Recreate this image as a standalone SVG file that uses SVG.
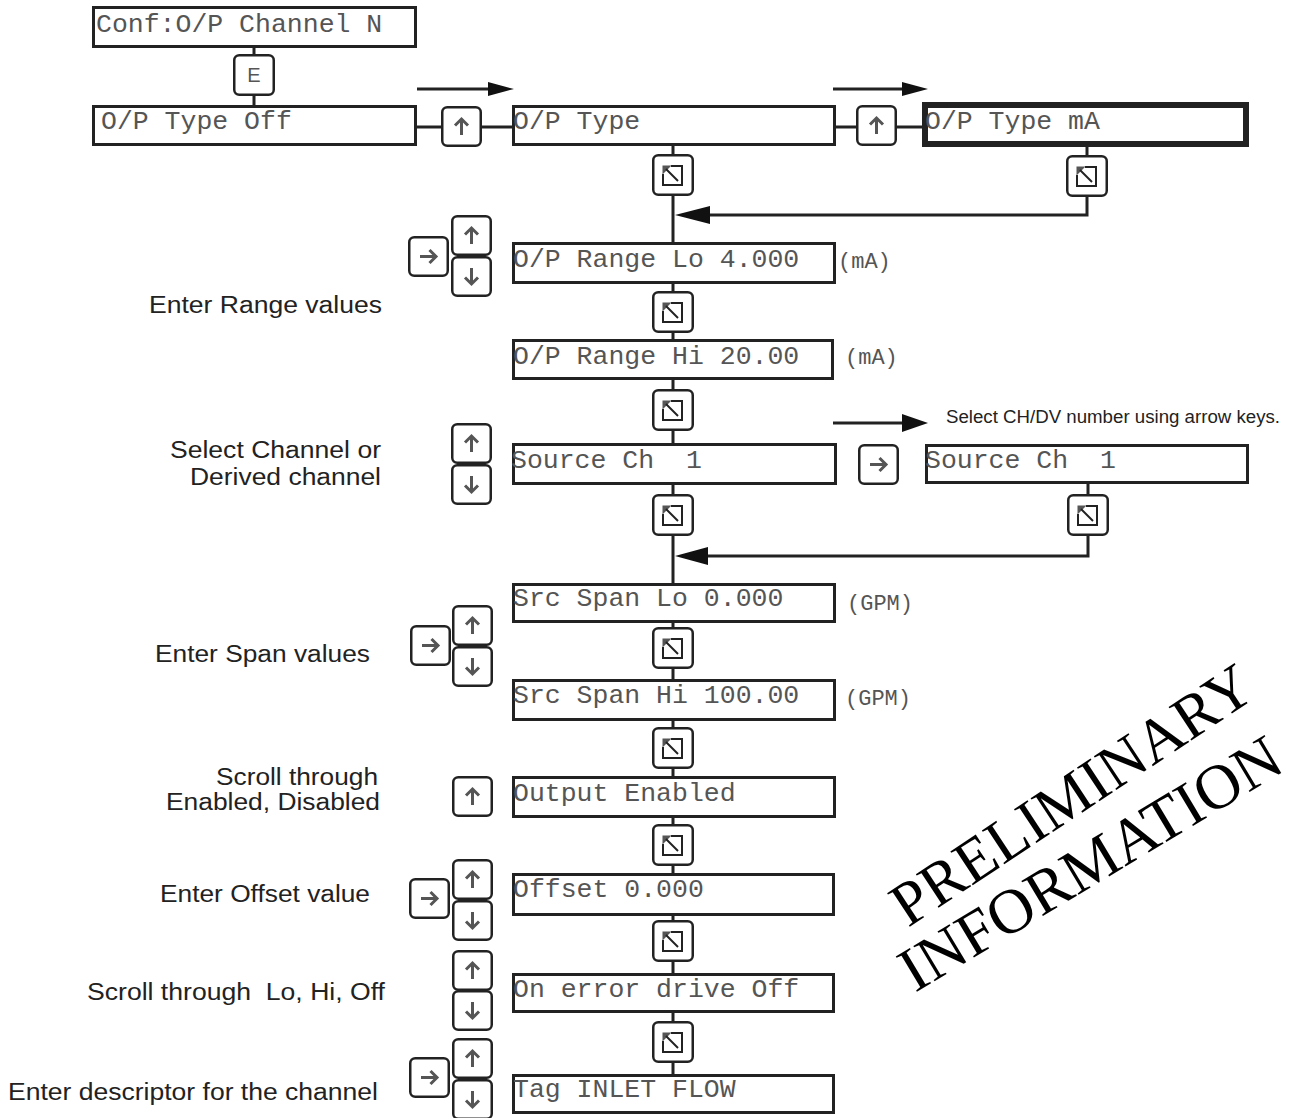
<svg xmlns="http://www.w3.org/2000/svg" xmlns:xlink="http://www.w3.org/1999/xlink" width="1292" height="1118" viewBox="0 0 1292 1118">
  <style>
    .box { fill: #fff; stroke: #222; stroke-width: 3; }
    .box-sel { fill: #fff; stroke: #222; stroke-width: 6; }
    .lcd { font-family: "Liberation Mono", "DejaVu Sans Mono", monospace; font-size: 26.5px; fill: #555; }
    .unit { font-family: "Liberation Mono", "DejaVu Sans Mono", monospace; font-size: 22px; fill: #555; }
    .note { font-family: "Liberation Sans", Arial, sans-serif; font-size: 23.5px; fill: #222; }
    .small { font-family: "Liberation Sans", Arial, sans-serif; font-size: 17.5px; fill: #222; }
    .wm { font-family: "Liberation Serif", "Times New Roman", serif; fill: #000; }
    .wire { fill: none; stroke: #222; stroke-width: 3; }
    .keycap { fill: #fff; stroke: #222; stroke-width: 2.5; }
    .glyph { fill: none; stroke: #555; stroke-width: 3; stroke-linecap: butt; stroke-linejoin: miter; }
  </style>
  <defs>
    <!-- key caps, 41 x 41 -->
    <g id="kUp">
      <rect class="keycap" x="1.25" y="1.25" width="38.5" height="38.5" rx="5"/>
      <path class="glyph" d="M20.5 29 V13 M14 19.5 L20.5 13 L27 19.5"/>
    </g>
    <g id="kDown">
      <rect class="keycap" x="1.25" y="1.25" width="38.5" height="38.5" rx="5"/>
      <path class="glyph" d="M20.5 12 V28 M14 21.5 L20.5 28 L27 21.5"/>
    </g>
    <g id="kRight">
      <rect class="keycap" x="1.25" y="1.25" width="38.5" height="38.5" rx="5"/>
      <path class="glyph" d="M12 20.5 H28 M21.5 14 L28 20.5 L21.5 27"/>
    </g>
    <g id="kEnter">
      <rect class="keycap" x="1.25" y="1.25" width="39.5" height="39.5" rx="5"/>
      <path d="M19 12 H30 V31 H11 V20" fill="none" stroke="#222" stroke-width="2"/>
      <polygon points="10.5,11.5 19.5,11.5 10.5,20.5" fill="#555"/>
      <line x1="14" y1="15" x2="26" y2="27" stroke="#222" stroke-width="2"/>
    </g>
  </defs>

  <!-- connectors -->
  <g id="connectors">
    <line class="wire" x1="254" y1="48" x2="254" y2="105"/>
    <line class="wire" x1="417" y1="127" x2="513" y2="127"/>
    <line class="wire" x1="836" y1="127" x2="923" y2="127"/>
    <line class="wire" x1="673" y1="146" x2="673" y2="1075"/>
    <polyline class="wire" points="1087,147 1087,215 705,215"/>
    <polygon points="675,215 710,206 710,224" fill="#111"/>
    <polyline class="wire" points="1088,484 1088,556 700,556"/>
    <polygon points="675,556 708,547 708,565" fill="#111"/>
    <!-- direction arrows -->
    <line class="wire" x1="417" y1="89" x2="492" y2="89"/>
    <polygon points="488,82 514,89 488,96" fill="#111"/>
    <line class="wire" x1="833" y1="89" x2="906" y2="89"/>
    <polygon points="902,82 928,89 902,96" fill="#111"/>
    <line class="wire" x1="833" y1="423" x2="906" y2="423"/>
    <polygon points="902,414 928,423 902,432" fill="#111"/>
  </g>

  <!-- display screens -->
  <g id="conf-channel">
    <rect class="box" x="93.5" y="7.5" width="322" height="39"/>
    <text class="lcd" x="96" y="32">Conf:O/P Channel N</text>
  </g>
  <g id="key-e">
    <rect class="keycap" x="234.25" y="55.25" width="39.5" height="39.5" rx="5"/>
    <text x="254" y="82" text-anchor="middle" font-family="Liberation Sans, Arial, sans-serif" font-size="20" fill="#555">E</text>
  </g>
  <g id="type-off">
    <rect class="box" x="93.5" y="106.5" width="322" height="38"/>
    <text class="lcd" x="101" y="129">O/P Type Off</text>
  </g>
  <g id="type">
    <rect class="box" x="513.5" y="106.5" width="321" height="38"/>
    <text class="lcd" x="513" y="129">O/P Type</text>
  </g>
  <g id="type-ma">
    <rect class="box-sel" x="925" y="105" width="321" height="39"/>
    <text class="lcd" x="925" y="129">O/P Type mA</text>
  </g>
  <g id="range-lo">
    <rect class="box" x="513.5" y="243.5" width="321" height="39"/>
    <text class="lcd" x="513" y="267">O/P Range Lo 4.000</text>
    <text class="unit" x="838" y="268">(mA)</text>
  </g>
  <g id="range-hi">
    <rect class="box" x="513.5" y="340.5" width="319" height="38"/>
    <text class="lcd" x="513" y="364">O/P Range Hi 20.00</text>
    <text class="unit" x="845" y="364">(mA)</text>
  </g>
  <g id="source-ch">
    <rect class="box" x="513.5" y="444.5" width="322" height="39"/>
    <text class="lcd" x="511" y="468" xml:space="preserve">Source Ch  1</text>
  </g>
  <g id="source-ch-select">
    <rect class="box" x="926.5" y="445.5" width="321" height="37"/>
    <text class="lcd" x="925" y="468" xml:space="preserve">Source Ch  1</text>
    <text class="small" x="946" y="423" textLength="334" lengthAdjust="spacingAndGlyphs">Select CH/DV number using arrow keys.</text>
  </g>
  <g id="span-lo">
    <rect class="box" x="513.5" y="584.5" width="321" height="37"/>
    <text class="lcd" x="513" y="606">Src Span Lo 0.000</text>
    <text class="unit" x="847" y="610">(GPM)</text>
  </g>
  <g id="span-hi">
    <rect class="box" x="513.5" y="680.5" width="321" height="39"/>
    <text class="lcd" x="513" y="703">Src Span Hi 100.00</text>
    <text class="unit" x="845" y="705">(GPM)</text>
  </g>
  <g id="output-enabled">
    <rect class="box" x="513.5" y="777.5" width="321" height="39"/>
    <text class="lcd" x="513" y="801">Output Enabled</text>
  </g>
  <g id="offset">
    <rect class="box" x="513.5" y="874.5" width="320" height="40"/>
    <text class="lcd" x="513" y="897">Offset 0.000</text>
  </g>
  <g id="on-error">
    <rect class="box" x="513.5" y="974.5" width="320" height="37"/>
    <text class="lcd" x="513" y="997">On error drive Off</text>
  </g>
  <g id="tag">
    <rect class="box" x="513.5" y="1075.5" width="320" height="37"/>
    <text class="lcd" x="513" y="1097">Tag INLET FLOW</text>
  </g>

  <!-- keys on the flow -->
  <g id="flow-keys">
    <use xlink:href="#kUp" x="441" y="106"/>
    <use xlink:href="#kUp" x="856" y="105"/>
    <use xlink:href="#kEnter" x="652" y="154"/>
    <use xlink:href="#kEnter" x="1066" y="155"/>
    <use xlink:href="#kEnter" x="652" y="291"/>
    <use xlink:href="#kEnter" x="652" y="389"/>
    <use xlink:href="#kRight" x="858" y="444"/>
    <use xlink:href="#kEnter" x="652" y="494"/>
    <use xlink:href="#kEnter" x="1067" y="494"/>
    <use xlink:href="#kEnter" x="652" y="627"/>
    <use xlink:href="#kEnter" x="652" y="727"/>
    <use xlink:href="#kEnter" x="652" y="824"/>
    <use xlink:href="#kEnter" x="652" y="920"/>
    <use xlink:href="#kEnter" x="652" y="1021"/>
  </g>

  <!-- keys for editing -->
  <g id="edit-keys">
    <use xlink:href="#kRight" x="408" y="236"/>
    <use xlink:href="#kUp" x="451" y="215"/>
    <use xlink:href="#kDown" x="451" y="256"/>

    <use xlink:href="#kUp" x="451" y="423"/>
    <use xlink:href="#kDown" x="451" y="464"/>

    <use xlink:href="#kRight" x="410" y="625"/>
    <use xlink:href="#kUp" x="452" y="605"/>
    <use xlink:href="#kDown" x="452" y="646"/>

    <use xlink:href="#kUp" x="452" y="776"/>

    <use xlink:href="#kRight" x="409" y="878"/>
    <use xlink:href="#kUp" x="452" y="859"/>
    <use xlink:href="#kDown" x="452" y="900"/>

    <use xlink:href="#kUp" x="452" y="950"/>
    <use xlink:href="#kDown" x="452" y="990"/>

    <use xlink:href="#kRight" x="409" y="1057"/>
    <use xlink:href="#kUp" x="452" y="1038"/>
    <use xlink:href="#kDown" x="452" y="1079"/>
  </g>

  <!-- notes -->
  <g id="notes">
    <text class="note" x="149" y="313" textLength="233" lengthAdjust="spacingAndGlyphs">Enter Range values</text>
    <text class="note" x="170" y="458" textLength="211" lengthAdjust="spacingAndGlyphs">Select Channel or</text>
    <text class="note" x="190" y="485" textLength="191" lengthAdjust="spacingAndGlyphs">Derived channel</text>
    <text class="note" x="155" y="662" textLength="215" lengthAdjust="spacingAndGlyphs">Enter Span values</text>
    <text class="note" x="216" y="785" textLength="162" lengthAdjust="spacingAndGlyphs">Scroll through</text>
    <text class="note" x="166" y="810" textLength="214" lengthAdjust="spacingAndGlyphs">Enabled, Disabled</text>
    <text class="note" x="160" y="902" textLength="210" lengthAdjust="spacingAndGlyphs">Enter Offset value</text>
    <text class="note" x="87" y="1000" textLength="298" lengthAdjust="spacingAndGlyphs" xml:space="preserve">Scroll through  Lo, Hi, Off</text>
    <text class="note" x="8" y="1100" textLength="370" lengthAdjust="spacingAndGlyphs">Enter descriptor for the channel</text>
  </g>

  <!-- watermark -->
  <g id="watermark">
    <text class="wm" font-size="62" transform="translate(908,928) rotate(-33.5)">PRELIMINARY</text>
    <text class="wm" font-size="63" transform="translate(915,993) rotate(-31)">INFORMATION</text>
  </g>
</svg>
